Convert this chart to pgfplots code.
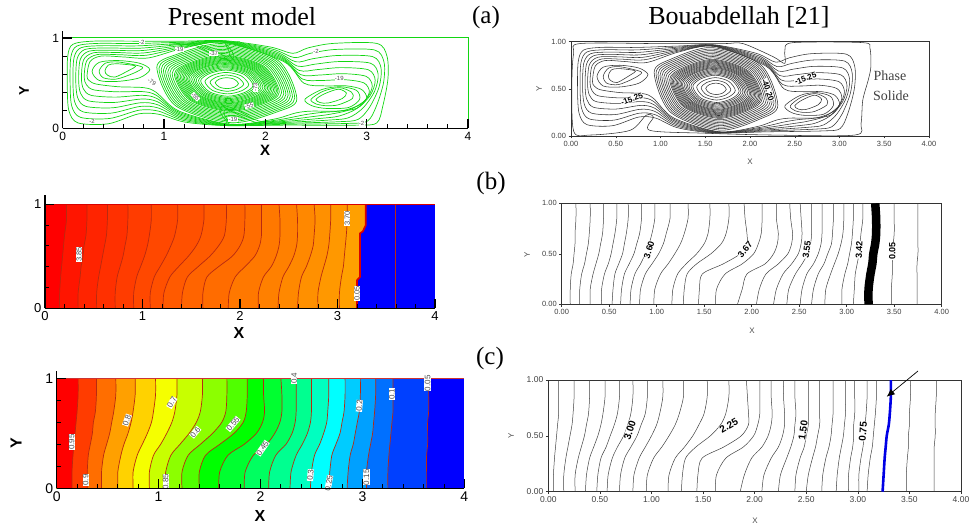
\documentclass[border=0pt]{standalone}
\usepackage{fontspec}
\setmainfont{Liberation Sans}
\newfontfamily\serifb{Liberation Serif}
\usepackage{pgfplots}
\usepackage{pgfplotstable}
\pgfplotsset{compat=1.18}
\usetikzlibrary{arrows.meta}
\newcommand\fs[1]{\fontsize{#1}{#1}\selectfont}
% ---- stream function contours (shared data units)
\newcommand\FamO{\C{(.073,.511)(.081,.791)(.14,.911)(.343,.94)(.721,.939)(1.20,.954)(1.60,.967)(2.069,.877)(2.286,.783)(2.443,.83)(2.689,.873)(3.079,.867)(3.171,.733)(3.166,.503)(3.094,.241)(3.007,.079)(2.814,.054)(2.183,.044)(1.609,.032)(1.193,.087)(.946,.19)(.757,.201)(.464,.109)(.176,.121)(.089,.247)}
\C{(.101,.523)(.112,.782)(.18,.892)(.386,.915)(.742,.913)(1.20,.943)(1.60,.964)(2.087,.854)(2.301,.736)(2.466,.77)(2.708,.806)(3.058,.794)(3.142,.666)(3.122,.456)(3.028,.232)(2.914,.098)(2.728,.073)(2.166,.053)(1.618,.034)(1.186,.104)(.943,.225)(.764,.242)(.478,.168)(.202,.182)(.118,.294)}
\C{(.129,.534)(.143,.773)(.22,.873)(.429,.89)(.763,.887)(1.20,.932)(1.60,.961)(2.106,.831)(2.317,.689)(2.489,.71)(2.727,.739)(3.037,.721)(3.113,.599)(3.078,.409)(2.962,.223)(2.821,.117)(2.642,.092)(2.149,.062)(1.627,.036)(1.179,.121)(.939,.26)(.771,.283)(.492,.227)(.228,.243)(.147,.341)}
\C{(.157,.546)(.174,.764)(.26,.854)(.472,.865)(.784,.861)(1.20,.921)(1.60,.958)(2.124,.809)(2.333,.641)(2.512,.65)(2.746,.672)(3.016,.648)(3.084,.532)(3.034,.362)(2.896,.214)(2.728,.136)(2.556,.111)(2.132,.071)(1.636,.038)(1.171,.139)(.934,.295)(.778,.324)(.506,.286)(.254,.304)(.176,.388)}
\C{(.185,.557)(.205,.755)(.30,.835)(.515,.84)(.805,.835)(1.20,.91)(1.60,.955)(2.143,.786)(2.349,.594)(2.535,.59)(2.765,.605)(2.995,.575)(3.055,.465)(2.99,.315)(2.83,.205)(2.635,.155)(2.47,.13)(2.115,.08)(1.645,.04)(1.164,.156)(.93,.33)(.785,.365)(.52,.345)(.28,.365)(.205,.435)}
\C{(.212,.569)(.236,.746)(.34,.816)(.558,.815)(.826,.809)(1.20,.90)(1.60,.952)(2.161,.763)(2.364,.547)(2.558,.53)(2.784,.538)(2.974,.502)(3.026,.398)(2.946,.268)(2.764,.196)(2.542,.174)(2.384,.149)(2.098,.089)(1.654,.043)(1.157,.173)(.925,.365)(.792,.406)(.534,.404)(.306,.426)(.234,.482)}
\C{(.24,.58)(.27,.74)(.38,.80)(.60,.79)(.85,.78)(1.20,.89)(1.60,.95)(2.18,.74)(2.38,.50)(2.58,.47)(2.80,.47)(2.95,.43)(3.0,.33)(2.90,.22)(2.7,.19)(2.45,.19)(2.30,.17)(2.08,.10)(1.66,.045)(1.15,.19)(.92,.40)(.80,.45)(.55,.46)(.33,.49)(.26,.53)}
}
\newcommand\FamL{\C{(.29,.63)(.36,.73)(.55,.75)(.76,.72)(.86,.65)(.76,.56)(.55,.52)(.36,.53)}
\C{(.36,.635)(.42,.72)(.54,.735)(.72,.70)(.79,.67)(.70,.61)(.53,.545)(.40,.56)}
\C{(.417,.637)(.45,.70)(.53,.715)(.68,.70)(.72,.685)(.66,.645)(.516,.567)(.44,.59)}
\C{(2.39,.32)(2.56,.43)(2.74,.46)(2.90,.42)(2.93,.32)(2.82,.23)(2.60,.22)(2.46,.25)}
\C{(2.45,.32)(2.57,.41)(2.73,.45)(2.85,.40)(2.86,.33)(2.72,.26)(2.60,.25)(2.50,.27)}
\C{(2.50,.32)(2.58,.38)(2.72,.433)(2.80,.39)(2.76,.33)(2.62,.28)(2.54,.285)}
}
\newcommand\FamM{\C{(1.505,.505)(1.546,.545)(1.619,.561)(1.694,.543)(1.735,.495)(1.694,.455)(1.621,.439)(1.546,.457)}
\C{(1.454,.510)(1.512,.565)(1.617,.590)(1.728,.562)(1.786,.490)(1.728,.435)(1.623,.410)(1.512,.438)}
\C{(1.404,.517)(1.478,.586)(1.615,.619)(1.762,.580)(1.836,.483)(1.762,.414)(1.625,.381)(1.478,.420)}
\C{(1.361,.525)(1.448,.605)(1.614,.645)(1.792,.596)(1.879,.475)(1.792,.395)(1.626,.355)(1.448,.404)}
\C{(1.340,.529)(1.432,.614)(1.613,.658)(1.808,.604)(1.900,.471)(1.808,.386)(1.627,.342)(1.432,.396)}
\C{(1.318,.533)(1.417,.624)(1.611,.671)(1.823,.612)(1.922,.467)(1.823,.376)(1.629,.329)(1.417,.388)}
\C{(1.300,.538)(1.404,.632)(1.610,.683)(1.836,.618)(1.940,.462)(1.836,.368)(1.630,.317)(1.404,.382)}
\C{(1.282,.542)(1.391,.640)(1.609,.694)(1.849,.625)(1.958,.458)(1.849,.360)(1.631,.306)(1.391,.375)}
\C{(1.264,.547)(1.378,.648)(1.608,.706)(1.862,.631)(1.976,.453)(1.862,.352)(1.632,.294)(1.378,.369)}
\C{(1.246,.551)(1.364,.657)(1.606,.717)(1.876,.638)(1.994,.449)(1.876,.343)(1.634,.283)(1.364,.362)}
\C{(1.232,.556)(1.354,.663)(1.605,.726)(1.886,.643)(2.008,.444)(1.886,.337)(1.635,.274)(1.354,.357)}
\C{(1.217,.560)(1.343,.670)(1.604,.735)(1.897,.648)(2.023,.440)(1.897,.330)(1.636,.265)(1.343,.352)}
\C{(1.202,.564)(1.332,.677)(1.603,.745)(1.908,.653)(2.038,.436)(1.908,.323)(1.637,.255)(1.332,.347)}
\C{(1.188,.568)(1.321,.684)(1.602,.754)(1.919,.658)(2.052,.432)(1.919,.316)(1.638,.246)(1.321,.342)}
\C{(1.174,.573)(1.310,.690)(1.601,.764)(1.930,.664)(2.066,.427)(1.930,.310)(1.639,.236)(1.310,.336)}
\C{(1.159,.578)(1.299,.697)(1.600,.774)(1.941,.669)(2.081,.422)(1.941,.303)(1.640,.226)(1.299,.331)}
\C{(1.144,.582)(1.288,.704)(1.598,.783)(1.952,.674)(2.096,.418)(1.952,.296)(1.642,.217)(1.288,.326)}
\C{(1.130,.587)(1.277,.711)(1.597,.793)(1.963,.679)(2.110,.413)(1.963,.289)(1.643,.207)(1.277,.321)}
\C{(1.116,.593)(1.266,.718)(1.596,.803)(1.974,.684)(2.124,.407)(1.974,.282)(1.644,.197)(1.266,.316)}
\C{(1.102,.599)(1.255,.726)(1.594,.813)(1.985,.689)(2.138,.401)(1.985,.274)(1.646,.187)(1.255,.311)}
\C{(1.080,.606)(1.237,.736)(1.592,.828)(2.003,.697)(2.160,.394)(2.003,.264)(1.648,.172)(1.237,.303)}
\C{(1.058,.616)(1.220,.747)(1.589,.843)(2.020,.705)(2.182,.384)(2.020,.253)(1.651,.157)(1.220,.295)}
\C{(1.037,.625)(1.203,.758)(1.587,.859)(2.037,.712)(2.203,.375)(2.037,.242)(1.653,.141)(1.203,.288)}
\C{(1.015,.634)(1.185,.769)(1.585,.874)(2.055,.720)(2.225,.366)(2.055,.231)(1.655,.126)(1.185,.280)}
\C{(.994,.644)(1.168,.780)(1.582,.890)(2.072,.727)(2.246,.356)(2.072,.220)(1.658,.110)(1.168,.273)}
\C{(.972,.654)(1.150,.792)(1.579,.906)(2.090,.735)(2.268,.346)(2.090,.208)(1.661,.094)(1.150,.265)}
\C{(.950,.664)(1.132,.803)(1.577,.922)(2.108,.743)(2.290,.336)(2.108,.197)(1.663,.078)(1.132,.257)}
\C{(.929,.675)(1.114,.814)(1.574,.938)(2.126,.750)(2.311,.325)(2.126,.186)(1.666,.062)(1.114,.250)}
}
\newcommand\FamH{\Hk{(1.05,.93)(1.3,.92)(1.45,.84)(1.58,.77)(1.66,.75)(1.69,.80)(1.66,.87)(1.62,.94)(1.75,.96)}
\Hk{(1.1,.945)(1.33,.935)(1.47,.87)(1.58,.81)(1.63,.79)(1.65,.83)(1.62,.90)(1.60,.95)}
\Hk{(2.19,.07)(1.94,.08)(1.79,.16)(1.66,.23)(1.58,.25)(1.55,.20)(1.58,.13)(1.62,.06)(1.49,.04)}
\Hk{(2.14,.055)(1.91,.065)(1.77,.13)(1.66,.19)(1.61,.21)(1.59,.17)(1.62,.10)(1.64,.05)}
}
% ---- isotherm tables: one row per contour, read at fixed heights
\pgfplotstableread{
name a b c d e f g h i
y 0 .15 .3 .4 .5 .6 .7 .85 1
c1 .15 .15 .16 .17 .18 .19 .20 .22 .22
c2 .34 .34 .36 .37 .39 .40 .42 .43 .43
c3 .53 .53 .55 .57 .59 .61 .63 .64 .64
c4 .72 .72 .74 .77 .80 .82 .84 .85 .85
c5 .91 .91 .94 .98 1.02 1.05 1.07 1.09 1.09
c6 1.08 1.08 1.12 1.18 1.24 1.29 1.33 1.36 1.36
c7 1.21 1.22 1.28 1.37 1.47 1.55 1.60 1.63 1.63
c8 1.40 1.41 1.46 1.57 1.69 1.78 1.84 1.86 1.86
c9 1.62 1.62 1.66 1.78 1.92 2.00 2.04 2.05 2.05
c10 1.88 1.89 1.95 2.05 2.15 2.20 2.22 2.22 2.22
c11 2.19 2.19 2.24 2.32 2.37 2.40 2.41 2.41 2.40
c12 2.39 2.40 2.44 2.50 2.55 2.58 2.59 2.59 2.58
c13 2.59 2.60 2.63 2.68 2.72 2.75 2.76 2.77 2.76
c14 2.80 2.80 2.83 2.86 2.89 2.91 2.92 2.93 2.93
c15 3.02 3.02 3.04 3.06 3.07 3.08 3.09 3.10 3.10
}\rawC
\pgfplotstabletranspose[colnames from=name,input colnames to=dummy]\TC{\rawC}
\pgfplotstableread{
name a b c d e f g h i
y 0 .15 .3 .4 .5 .6 .7 .85 1
c1 .09 .09 .10 .12 .13 .14 .14 .15 .15
c2 .19 .19 .21 .24 .26 .28 .29 .30 .30
c3 .30 .30 .33 .36 .39 .41 .43 .44 .44
c4 .42 .42 .45 .49 .52 .54 .56 .58 .58
c5 .53 .54 .56 .60 .64 .66 .68 .70 .70
c6 .62 .63 .66 .71 .76 .79 .82 .84 .84
c7 .72 .73 .77 .83 .88 .92 .95 .98 .98
c8 .82 .83 .88 .95 1.02 1.07 1.10 1.14 1.14
c9 .97 .98 1.04 1.12 1.19 1.25 1.29 1.33 1.33
c10 1.16 1.17 1.22 1.31 1.42 1.50 1.54 1.56 1.56
c11 1.28 1.29 1.32 1.42 1.57 1.68 1.73 1.76 1.76
c12 1.44 1.45 1.48 1.70 1.88 1.95 1.95 1.93 1.92
c13 1.62 1.63 1.72 1.90 2.02 2.07 2.10 2.11 2.11
c14 1.85 1.90 1.95 2.14 2.23 2.27 2.28 2.26 2.26
c15 2.05 2.08 2.15 2.28 2.38 2.42 2.43 2.41 2.40
c16 2.23 2.26 2.33 2.42 2.49 2.52 2.53 2.52 2.51
c17 2.37 2.39 2.46 2.53 2.59 2.62 2.63 2.63 2.63
c18 2.51 2.53 2.58 2.65 2.70 2.73 2.74 2.74 2.74
c19 2.63 2.65 2.70 2.76 2.80 2.84 2.85 2.86 2.86
c20 2.77 2.78 2.83 2.87 2.91 2.94 2.96 2.97 2.97
c21 2.95 2.95 2.98 3.01 3.03 3.05 3.06 3.07 3.07
c22 3.07 3.08 3.09 3.11 3.13 3.14 3.15 3.17 3.17
c23 3.47 3.47 3.48 3.48 3.49 3.49 3.50 3.50 3.50
c24 3.74 3.74 3.74 3.74 3.75 3.75 3.75 3.75 3.75
th 3.23 3.23 3.25 3.27 3.28 3.30 3.31 3.31 3.30
}\rawD
\pgfplotstabletranspose[colnames from=name,input colnames to=dummy]\TD{\rawD}
\pgfplotstableread{
name a b c d e f g h i
y 0 .15 .3 .4 .5 .6 .7 .85 1
c1 .15 .15 .16 .17 .18 .19 .20 .21 .21
c2 .30 .30 .31 .33 .35 .36 .38 .39 .39
c3 .44 .44 .46 .49 .52 .54 .56 .58 .58
c4 .60 .60 .63 .66 .70 .73 .75 .77 .77
c5 .75 .75 .79 .84 .89 .93 .95 .97 .97
c6 .91 .91 .95 1.02 1.08 1.13 1.16 1.18 1.18
c7 1.06 1.07 1.12 1.21 1.30 1.37 1.41 1.43 1.43
c8 1.23 1.23 1.29 1.41 1.53 1.62 1.66 1.67 1.67
c9 1.40 1.40 1.46 1.60 1.74 1.83 1.86 1.87 1.87
c10 1.59 1.60 1.68 1.84 1.96 2.02 2.04 2.03 2.03
c11 1.84 1.85 1.93 2.06 2.14 2.19 2.21 2.21 2.20
c12 2.08 2.09 2.15 2.25 2.31 2.34 2.35 2.35 2.35
c13 2.29 2.30 2.35 2.41 2.46 2.49 2.50 2.50 2.50
c14 2.49 2.50 2.53 2.58 2.62 2.65 2.66 2.67 2.67
c15 2.67 2.68 2.70 2.74 2.78 2.80 2.82 2.83 2.83
c16 2.85 2.86 2.88 2.91 2.93 2.95 2.97 2.98 2.98
c17 3.04 3.04 3.06 3.08 3.10 3.11 3.12 3.13 3.13
c18 3.25 3.25 3.26 3.27 3.28 3.29 3.30 3.30 3.30
c19 3.63 3.63 3.63 3.64 3.64 3.64 3.65 3.65 3.65
}\rawE
\pgfplotstabletranspose[colnames from=name,input colnames to=dummy]\TE{\rawE}
\pgfplotstableread{
name a b c d e f g h i
y 0 .15 .3 .4 .5 .6 .7 .85 1
c1 .05 .05 .06 .07 .08 .09 .10 .10 .10
c2 .15 .15 .17 .19 .21 .23 .24 .25 .25
c3 .26 .26 .29 .32 .35 .37 .39 .40 .40
c4 .36 .37 .40 .44 .48 .51 .53 .55 .55
c5 .47 .48 .51 .56 .60 .64 .67 .69 .69
c6 .57 .58 .62 .67 .73 .77 .80 .82 .82
c7 .69 .70 .74 .80 .86 .90 .94 .96 .96
c8 .82 .83 .88 .94 1.00 1.05 1.08 1.11 1.11
c9 .95 .96 1.02 1.10 1.17 1.23 1.27 1.31 1.31
c10 1.16 1.17 1.23 1.32 1.40 1.46 1.51 1.54 1.54
c11 1.29 1.30 1.33 1.43 1.57 1.67 1.72 1.75 1.75
c12 1.44 1.45 1.49 1.70 1.87 1.94 1.94 1.93 1.92
c13 1.62 1.63 1.72 1.89 1.99 2.03 2.05 2.05 2.05
c14 1.86 1.90 1.97 2.07 2.13 2.16 2.17 2.16 2.16
c15 2.07 2.09 2.16 2.23 2.27 2.29 2.29 2.28 2.28
c16 2.23 2.25 2.31 2.35 2.38 2.39 2.40 2.39 2.39
c17 2.39 2.40 2.44 2.48 2.50 2.52 2.52 2.52 2.52
c18 2.50 2.52 2.56 2.59 2.61 2.63 2.63 2.63 2.63
c19 2.65 2.66 2.69 2.72 2.74 2.75 2.76 2.76 2.76
c20 2.79 2.80 2.82 2.84 2.86 2.87 2.88 2.88 2.88
c21 2.91 2.91 2.93 2.95 2.96 2.96 2.97 2.97 2.97
c22 3.01 3.01 3.03 3.05 3.06 3.07 3.08 3.09 3.09
c23 3.09 3.10 3.12 3.14 3.15 3.16 3.17 3.18 3.18
c24 3.47 3.47 3.48 3.49 3.49 3.50 3.50 3.51 3.51
c25 3.74 3.74 3.74 3.74 3.75 3.75 3.75 3.76 3.76
th 3.24 3.25 3.26 3.27 3.28 3.30 3.31 3.32 3.32
}\rawF
\pgfplotstabletranspose[colnames from=name,input colnames to=dummy]\TF{\rawF}
% colours
\definecolor{gl}{HTML}{12D612}
\definecolor{cl}{HTML}{B82A10}
\definecolor{a0}{HTML}{FF0000}\definecolor{a1}{HTML}{FF1500}\definecolor{a2}{HTML}{FF2400}\definecolor{a3}{HTML}{FF3000}
\definecolor{a4}{HTML}{FF3C00}\definecolor{a5}{HTML}{FF4800}\definecolor{a6}{HTML}{FF5000}\definecolor{a7}{HTML}{FF5A00}
\definecolor{a8}{HTML}{FF6400}\definecolor{a9}{HTML}{FF6C00}\definecolor{a10}{HTML}{FF7800}\definecolor{a11}{HTML}{FF8000}
\definecolor{a12}{HTML}{FF8800}\definecolor{a13}{HTML}{FF9000}\definecolor{a14}{HTML}{FF9800}\definecolor{a15}{HTML}{FFA000}
\definecolor{b0}{HTML}{FF0000}\definecolor{b1}{HTML}{FF3C00}\definecolor{b2}{HTML}{FF6E00}\definecolor{b3}{HTML}{FFA000}
\definecolor{b4}{HTML}{FFD200}\definecolor{b5}{HTML}{F5FF00}\definecolor{b6}{HTML}{C8FF00}\definecolor{b7}{HTML}{8CFF00}
\definecolor{b8}{HTML}{50FF00}\definecolor{b9}{HTML}{00FF00}\definecolor{b10}{HTML}{00FF30}\definecolor{b11}{HTML}{00FF60}
\definecolor{b12}{HTML}{00FF90}\definecolor{b13}{HTML}{00FFC0}\definecolor{b14}{HTML}{00FFFF}\definecolor{b15}{HTML}{00CCFF}
\definecolor{b16}{HTML}{00A0FF}\definecolor{b17}{HTML}{0070FF}\definecolor{b18}{HTML}{0040FF}\definecolor{b19}{HTML}{0000FF}
\newcommand\band[3]{\addplot[fill=#3,draw=none,smooth] table[x=#2,y=y]{#1} -- (axis cs:0,1) -- (axis cs:0,0) -- cycle;}
\newcommand\cln[2]{\addplot[cl,line width=.7pt,smooth] table[x=#2,y=y]{#1};}
\newcommand\iso[2]{\addplot[black!75,line width=.5pt,smooth] table[x=#2,y=y]{#1};}
\newcommand\labfs{6}
\newcommand\lab[4]{\node[fill=white,inner sep=.3pt,text=black!70,font=\fs{\labfs},rotate=#3] at (axis cs:#1,#2) {#4};}
\newcommand\bl[5]{\node[fill=white,inner sep=.2pt,text=black,font=\fs{#3},rotate=#4] at (axis cs:#1,#2) {\textbf{#5}};}
\pgfplotsset{
 tec/.style={scale only axis,anchor=south west,clip=false,xmin=0,xmax=4,ymin=0,ymax=1,
  axis x line*=bottom,axis y line*=left,xtick={0,1,2,3,4},ytick={0,1},
  xticklabels={0,1,2,3,4},yticklabels={0,1},minor x tick num=4,minor y tick num=4,
  tick align=inside,major tick length=9pt,minor tick length=4pt,
  axis line style={black,line width=1.3pt},
  major tick style={black,line width=1.1pt},minor tick style={black,line width=.8pt},
  tick label style={font=\fs{12}},axis on top},
 cad/.style={scale only axis,anchor=south west,xmin=0,xmax=4,ymin=0,ymax=1,
  xtick={0,.5,1,1.5,2,2.5,3,3.5,4},ytick={0,.5,1},
  xticklabels={0.00,0.50,1.00,1.50,2.00,2.50,3.00,3.50,4.00},yticklabels={0.00,0.50,1.00},
  tick align=outside,tick pos=left,major tick length=2.5pt,
  axis line style={black!80,line width=.6pt},major tick style={black!80,line width=.5pt},
  tick label style={font=\fs{7.5},text=black!75},
  xticklabel style={yshift=1pt},yticklabel style={xshift=1pt}},
}
\begin{document}
\begin{tikzpicture}
\path[use as bounding box] (0pt,0pt) rectangle (973pt,530pt);
% headings
\node[font=\serifb\fs{26}] at (242pt,513pt) {Present model};
\node[font=\serifb\fs{26}] at (739pt,513pt) {Bouabdellah [21]};
\node[font=\serifb\fs{25}] at (486pt,513pt) {(a)};
\node[font=\serifb\fs{25}] at (491pt,347pt) {(b)};
\node[font=\serifb\fs{25}] at (490pt,172pt) {(c)};
% ---- top left
\begin{axis}[tec,at={(62.7pt,401.7pt)},width=405.3pt,height=90.3pt]
\def\C#1{\addplot[gl,line width=.7pt,smooth cycle] coordinates {#1};}
\def\Hk#1{\addplot[gl,line width=.7pt,smooth] coordinates {#1};}
\C{(.045,.50)(.05,.80)(.10,.93)(.30,.965)(.70,.965)(1.20,.965)(1.60,.97)(2.05,.90)(2.27,.83)(2.42,.89)(2.67,.94)(3.10,.94)(3.20,.80)(3.21,.55)(3.16,.25)(3.10,.06)(2.9,.035)(2.2,.035)(1.6,.03)(1.2,.07)(.95,.155)(.75,.16)(.45,.05)(.15,.06)(.06,.20)}
\FamO\FamL\FamM\FamH
\addplot[gl,line width=1pt] coordinates {(0,1)(4,1)(4,0)};
\addplot[black,line width=1.3pt] coordinates {(0,1)(0,1.08)};
\lab{.78}{.95}{0}{-2}\lab{1.15}{.87}{0}{-19}\lab{1.49}{.83}{0}{-37}\lab{.88}{.51}{-30}{-79}
\lab{1.31}{.35}{-45}{-55}\lab{1.90}{.45}{90}{-73}\lab{1.84}{.25}{15}{-55}\lab{1.68}{.10}{0}{-19}
\lab{2.73}{.55}{0}{-19}\lab{2.50}{.85}{0}{-2}\lab{.29}{.08}{0}{-2}\lab{2.95}{.055}{0}{-2}
\end{axis}
\node[font=\bfseries\fs{15}] at (265pt,380pt) {X};
\node[font=\bfseries\fs{14},rotate=90] at (24pt,439pt) {Y};
% ---- top right
\begin{axis}[cad,at={(571pt,394pt)},width=358pt,height=94.3pt]
\def\C#1{\addplot[black!80,line width=.55pt,smooth cycle] coordinates {#1};}
\C{(.01,.56)(.03,.88)(.10,.98)(.96,.98)(1.70,.98)(1.92,.98)(2.26,.84)(2.39,.77)(2.39,.91)(2.48,.99)(3.26,.99)(3.34,.93)(3.35,.73)(3.32,.59)(3.26,.38)(3.24,.13)(3.17,.01)(2.26,.01)(1.48,.03)(.88,.06)(.92,.20)(.84,.22)(.66,.06)(.21,.01)(.03,.05)}
\FamO\FamL\FamM
\bl{.68}{.39}{8}{20}{-15.25}\bl{2.20}{.49}{8}{-70}{-40.20}\bl{2.62}{.61}{8}{20}{-15.25}
\end{axis}
\node[font=\serifb\fs{14},text=black!75] at (890pt,454pt) {Phase};
\node[font=\serifb\fs{14},text=black!75] at (891pt,434pt) {Solide};
\node[font=\fs{8},text=black!70] at (750pt,368pt) {X};
\node[font=\fs{8},text=black!70,rotate=90] at (539pt,441pt) {Y};
% ---- middle left
\begin{axis}[tec,at={(45pt,221.7pt)},width=390pt,height=104pt,tick label style={font=\fs{13}}]
\renewcommand\labfs{7.5}
\addplot[fill=blue,draw=none] coordinates {(0,0)(4,0)(4,1)(0,1)} -- cycle;
\addplot[fill=a15,draw=none] coordinates {(3.20,0)(3.20,.27)(3.23,.30)(3.23,.72)(3.26,.74)(3.29,.80)(3.29,1)} -- (axis cs:0,1) -- (axis cs:0,0) -- cycle;
\band{\TC}{c15}{a14}\band{\TC}{c14}{a13}\band{\TC}{c13}{a12}\band{\TC}{c12}{a11}\band{\TC}{c11}{a10}
\band{\TC}{c10}{a9}\band{\TC}{c9}{a8}\band{\TC}{c8}{a7}\band{\TC}{c7}{a6}\band{\TC}{c6}{a5}
\band{\TC}{c5}{a4}\band{\TC}{c4}{a3}\band{\TC}{c3}{a2}\band{\TC}{c2}{a1}\band{\TC}{c1}{a0}
\cln{\TC}{c1}\cln{\TC}{c2}\cln{\TC}{c3}\cln{\TC}{c4}\cln{\TC}{c5}\cln{\TC}{c6}\cln{\TC}{c7}\cln{\TC}{c8}
\cln{\TC}{c9}\cln{\TC}{c10}\cln{\TC}{c11}\cln{\TC}{c12}\cln{\TC}{c13}\cln{\TC}{c14}\cln{\TC}{c15}
\addplot[cl,line width=.9pt] coordinates {(3.59,0)(3.59,1)};
\addplot[red!85!black,line width=1.7pt] coordinates {(3.20,0)(3.20,.27)(3.23,.30)(3.23,.72)(3.26,.74)(3.29,.80)(3.29,1)};
\addplot[red!85!black,line width=1.5pt] coordinates {(0,1)(4,1)};
\addplot[black,line width=1.3pt] coordinates {(0,1)(0,1.09)};
\lab{.35}{.52}{90}{3.85}\lab{3.10}{.865}{90}{3.70}\lab{3.20}{.145}{90}{0.05}
\end{axis}
\node[font=\bfseries\fs{16}] at (239pt,197pt) {X};
% ---- middle right
\begin{axis}[cad,at={(561.7pt,225.7pt)},width=380pt,height=101pt]
\iso{\TD}{c1}\iso{\TD}{c2}\iso{\TD}{c3}\iso{\TD}{c4}\iso{\TD}{c5}\iso{\TD}{c6}\iso{\TD}{c7}\iso{\TD}{c8}
\iso{\TD}{c9}\iso{\TD}{c10}\iso{\TD}{c11}\iso{\TD}{c12}\iso{\TD}{c13}\iso{\TD}{c14}\iso{\TD}{c15}\iso{\TD}{c16}
\iso{\TD}{c17}\iso{\TD}{c18}\iso{\TD}{c19}\iso{\TD}{c20}\iso{\TD}{c21}\iso{\TD}{c22}\iso{\TD}{c23}\iso{\TD}{c24}
\addplot[black,line width=8.5pt,smooth] table[x=th,y=y]{\TD};
\bl{.92}{.54}{9}{72}{3.60}\bl{1.93}{.54}{9}{50}{3.67}\bl{2.58}{.54}{9}{82}{3.55}\bl{3.13}{.54}{9}{88}{3.42}\bl{3.48}{.53}{9}{90}{0.05}
\end{axis}
\node[font=\fs{8},text=black!70] at (752pt,199pt) {X};
\node[font=\fs{8},text=black!70,rotate=90] at (527pt,275pt) {Y};
% ---- bottom left
\begin{axis}[tec,at={(56.7pt,41.7pt)},width=407.6pt,height=110pt,tick label style={font=\fs{14}}]
\renewcommand\labfs{8}
\addplot[fill=b19,draw=none] coordinates {(0,0)(4,0)(4,1)(0,1)} -- cycle;
\band{\TE}{c19}{b18}\band{\TE}{c18}{b17}\band{\TE}{c17}{b16}\band{\TE}{c16}{b15}\band{\TE}{c15}{b14}
\band{\TE}{c14}{b13}\band{\TE}{c13}{b12}\band{\TE}{c12}{b11}\band{\TE}{c11}{b10}\band{\TE}{c10}{b9}
\band{\TE}{c9}{b8}\band{\TE}{c8}{b7}\band{\TE}{c7}{b6}\band{\TE}{c6}{b5}\band{\TE}{c5}{b4}
\band{\TE}{c4}{b3}\band{\TE}{c3}{b2}\band{\TE}{c2}{b1}\band{\TE}{c1}{b0}
\cln{\TE}{c1}\cln{\TE}{c2}\cln{\TE}{c3}\cln{\TE}{c4}\cln{\TE}{c5}\cln{\TE}{c6}\cln{\TE}{c7}\cln{\TE}{c8}\cln{\TE}{c9}\cln{\TE}{c10}
\cln{\TE}{c11}\cln{\TE}{c12}\cln{\TE}{c13}\cln{\TE}{c14}\cln{\TE}{c15}\cln{\TE}{c16}\cln{\TE}{c17}\cln{\TE}{c18}\cln{\TE}{c19}
\addplot[red!75!black!80,line width=1.2pt] coordinates {(0,1)(4,1)};
\addplot[black,line width=1.3pt] coordinates {(0,1)(0,1.07)};
\lab{.147}{.42}{90}{0.95}\lab{.285}{.075}{90}{0.9}\lab{.69}{.62}{70}{0.8}\lab{1.13}{.78}{60}{0.7}\lab{1.36}{.51}{50}{0.6}
\lab{1.73}{.585}{50}{0.55}\lab{2.02}{.365}{55}{0.45}\lab{2.33}{1.0}{90}{0.4}\lab{2.97}{.75}{85}{0.2}\lab{3.29}{.855}{90}{0.1}
\lab{3.64}{.955}{90}{0.05}\lab{2.49}{.12}{85}{0.3}\lab{2.67}{.045}{80}{0.25}\lab{3.04}{.10}{90}{0.15}\lab{1.07}{.06}{90}{0.85}
\end{axis}
\node[font=\bfseries\fs{16}] at (260pt,14pt) {X};
\node[font=\bfseries\fs{16},rotate=90] at (16pt,87pt) {Y};
% ---- bottom right
\begin{axis}[cad,at={(548.3pt,38.3pt)},width=412.7pt,height=111.7pt,tick label style={font=\fs{8.5}}]
\iso{\TF}{c1}\iso{\TF}{c2}\iso{\TF}{c3}\iso{\TF}{c4}\iso{\TF}{c5}\iso{\TF}{c6}\iso{\TF}{c7}\iso{\TF}{c8}
\iso{\TF}{c9}\iso{\TF}{c10}\iso{\TF}{c11}\iso{\TF}{c12}\iso{\TF}{c13}\iso{\TF}{c14}\iso{\TF}{c15}\iso{\TF}{c16}
\iso{\TF}{c17}\iso{\TF}{c18}\iso{\TF}{c19}\iso{\TF}{c20}\iso{\TF}{c21}\iso{\TF}{c22}\iso{\TF}{c23}\iso{\TF}{c24}\iso{\TF}{c25}
\addplot[blue!90!black,line width=2.6pt,smooth] table[x=th,y=y]{\TF};
\bl{.79}{.55}{10}{72}{3.00}\bl{1.75}{.59}{10}{30}{2.25}\bl{2.47}{.55}{10}{82}{1.50}\bl{3.05}{.54}{10}{86}{0.75}
\end{axis}
\draw[-{Latex[length=8pt,width=7pt]},black,line width=.7pt] (918pt,159pt) -- (886.7pt,133.3pt);
\node[font=\fs{8},text=black!70] at (755pt,9pt) {X};
\node[font=\fs{8},text=black!70,rotate=90] at (511pt,94pt) {Y};
\end{tikzpicture}
\end{document}
